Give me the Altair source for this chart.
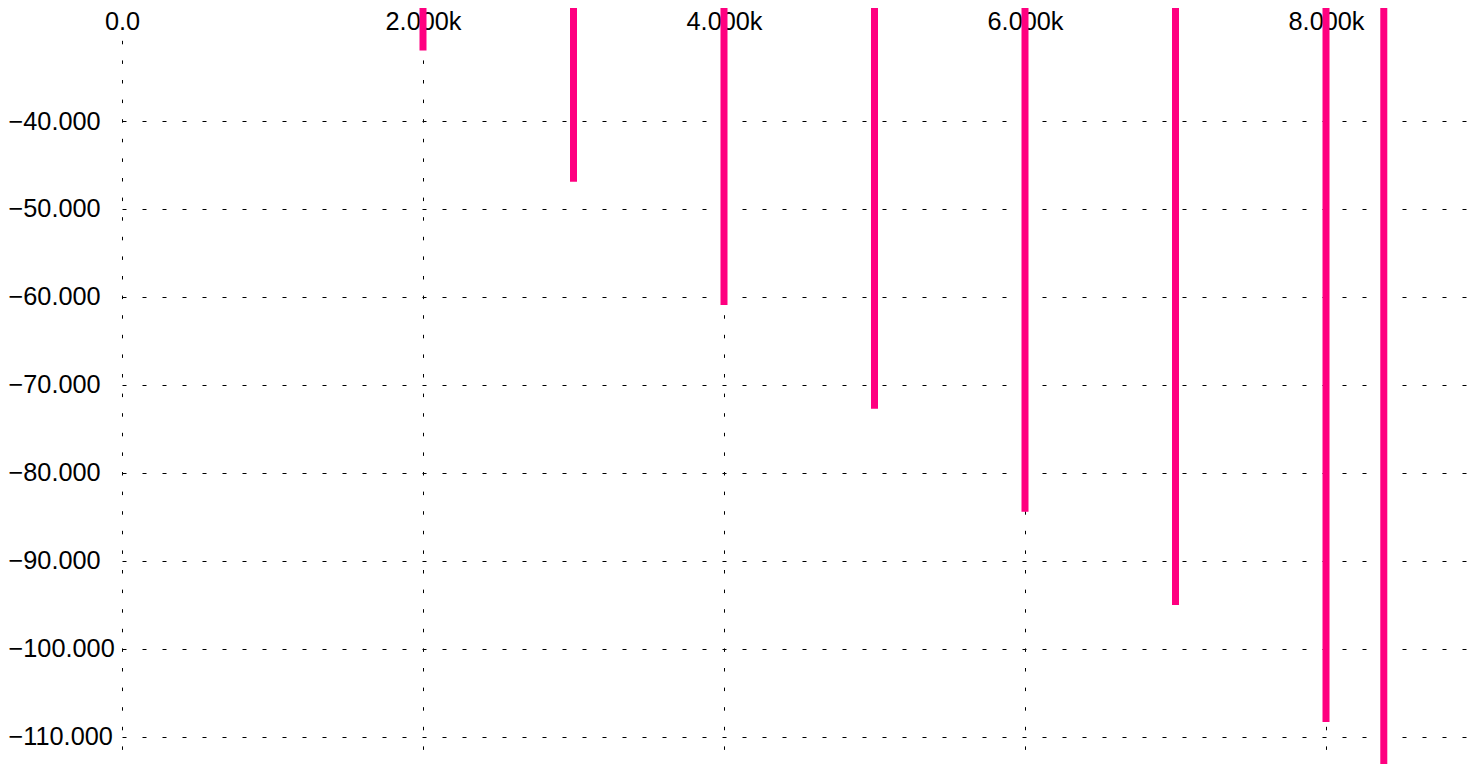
import altair as alt
import pandas as pd

# Harmonic frequencies (Hz) and their levels (dB)
freqs = [2000, 3000, 4000, 5000, 6000, 7000, 8000, 8384]
levels = [-32.0, -46.9, -60.9, -72.7, -84.4, -95.0, -108.3, -125.0]
baseline = [0.0] * len(freqs)

x_ticks = [0, 2000, 4000, 6000, 8000]
y_ticks = [-40, -50, -60, -70, -80, -90, -100, -110]

x_domain = [0, 9000]
y_domain = [-113.64, -30.795]

df = pd.DataFrame({"freq": freqs, "level": levels, "base": baseline})

FONT = "Liberation Sans"
FS = 25.3

bars = alt.Chart(df).mark_bar(size=7, color="#ff0080", clip=False).encode(
    x=alt.X(
        "freq:Q",
        scale=alt.Scale(domain=x_domain, nice=False, zero=False, padding=0),
        axis=alt.Axis(
            orient="top",
            values=x_ticks,
            labelExpr="datum.value == 0 ? '0.0' : format(datum.value / 1000, '.3f') + 'k'",
            title=None,
            domain=False,
            ticks=False,
            tickSize=0,
            labelPadding=11,
            labelBaseline="alphabetic",
            labelFlush=False,
            labelOverlap=False,
            grid=True,
            gridDash=[3.5, 16.1],
            gridColor="#000000",
            gridWidth=1,
            labelFont=FONT,
            labelFontSize=FS,
            labelColor="#000000",
        ),
    ),
    y=alt.Y(
        "level:Q",
        scale=alt.Scale(domain=y_domain, nice=False, zero=False, padding=0),
        axis=alt.Axis(
            orient="left",
            values=y_ticks,
            format=".3f",
            title=None,
            domain=False,
            ticks=False,
            tickSize=0,
            labelPadding=114,
            labelAlign="left",
            labelFlush=False,
            labelOverlap=False,
            grid=True,
            gridDash=[4, 16],
            gridColor="#000000",
            gridWidth=1,
            labelFont=FONT,
            labelFontSize=FS,
            labelColor="#000000",
        ),
    ),
    y2="base:Q",
)

chart = bars.properties(
    width=1354.5,
    height=729,
    autosize=alt.AutoSizeParams(type="none"),
    padding={"left": 114, "top": 32, "right": -6.5, "bottom": 0},
    background="#ffffff",
).configure_view(stroke="transparent")

chart.save("out.html", embed_options={"renderer": "svg", "actions": False})
